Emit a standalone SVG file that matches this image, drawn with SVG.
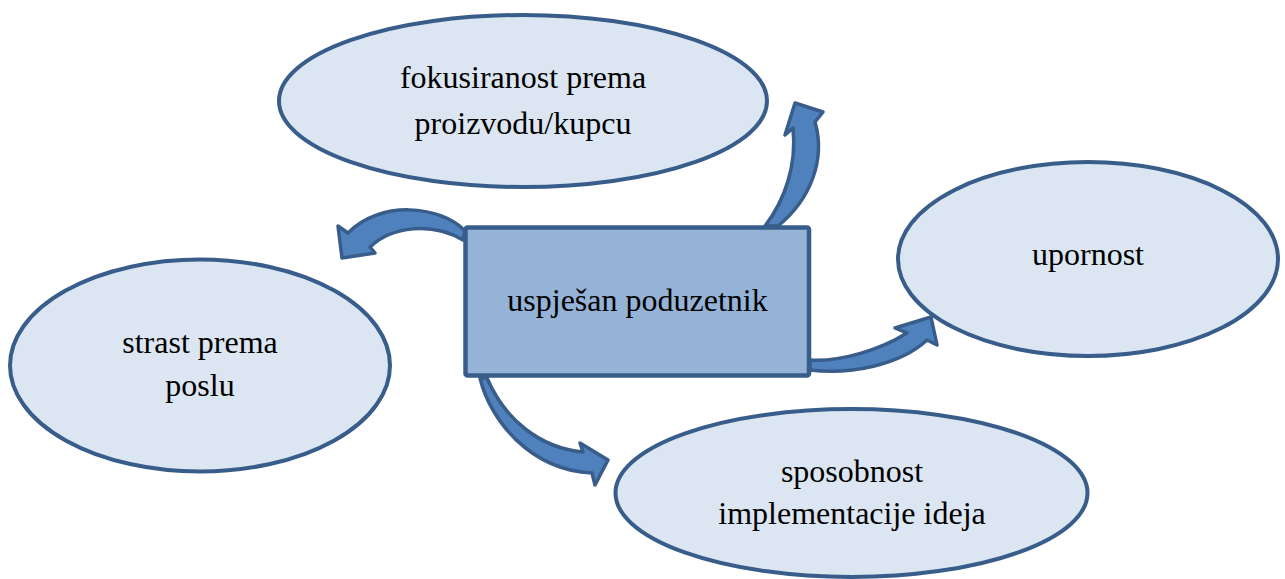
<svg xmlns="http://www.w3.org/2000/svg" width="1285" height="579" viewBox="0 0 1285 579">
<style>
.ell{fill:#dce6f2;stroke:#385d8a;stroke-width:4}
.box{fill:#95b3d7;stroke:#385d8a;stroke-width:4.5}
.arr{fill:#4f81bd;stroke:#385d8a;stroke-width:3.5;stroke-linejoin:round}
.lbl{font-size:32px;fill:#000;text-anchor:middle}
</style>
<rect width="1285" height="579" fill="#fff"/>
<g font-family="Liberation Serif, Times New Roman, serif">
<g id="node-fokus">
<ellipse class="ell" cx="523" cy="101" rx="244" ry="86"/>
<text class="lbl" font-family="Liberation Serif, serif" x="523" y="88">fokusiranost prema</text>
<text class="lbl" font-family="Liberation Serif, serif" x="523" y="134">proizvodu/kupcu</text>
</g>
<g id="node-upornost">
<ellipse class="ell" cx="1088" cy="259" rx="190" ry="97"/>
<text class="lbl" font-family="Liberation Serif, serif" x="1088" y="265">upornost</text>
</g>
<g id="node-strast">
<ellipse class="ell" cx="200" cy="365.5" rx="190" ry="106"/>
<text class="lbl" font-family="Liberation Serif, serif" x="200" y="353">strast prema</text>
<text class="lbl" font-family="Liberation Serif, serif" x="200" y="396">poslu</text>
</g>
<g id="node-sposobnost">
<ellipse class="ell" cx="851.5" cy="493" rx="236" ry="84"/>
<text class="lbl" font-family="Liberation Serif, serif" x="852" y="482">sposobnost</text>
<text class="lbl" font-family="Liberation Serif, serif" x="852" y="524">implementacije ideja</text>
</g>
<g id="connectors">
<path class="arr" d="M 465,231 C 440,205 380,200 348,233 L 338,226 L 342,258 L 375,253 L 370,247 C 392,226 432,222 463,240 Z"/>
<path class="arr" d="M 765,226 C 785,200 797,165 793,128 L 785,135 L 795,103 L 823,112 L 815,122 C 826,160 810,200 778,226 Z"/>
<path class="arr" d="M 810,360 C 840,362 880,350 907,333 L 895,328 L 931,317 L 937,345 L 927,340 C 900,365 850,375 810,370 Z"/>
<path class="arr" d="M 480,378 C 490,420 530,470 592,473 L 595,485 L 608,460 L 580,443 L 583,452 C 540,448 505,420 487,378 Z"/>
</g>
<g id="node-center">
<rect class="box" x="465.5" y="227.5" width="343.5" height="148" rx="2"/>
<text class="lbl" font-family="Liberation Serif, serif" x="637.5" y="311">uspješan poduzetnik</text>
</g>
</g>
</svg>
